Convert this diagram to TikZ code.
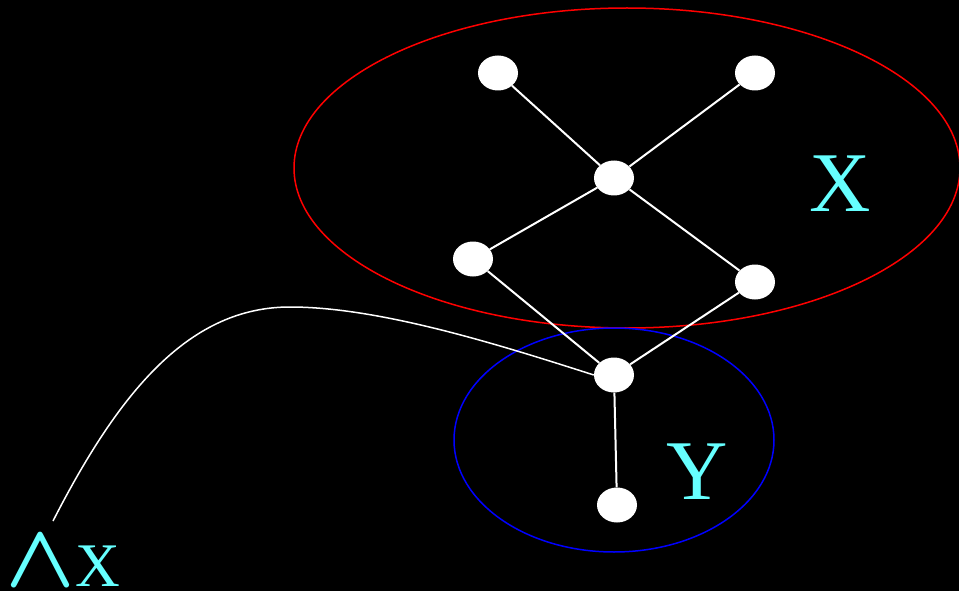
\documentclass[tikz,border=0pt]{standalone}
\usepackage{fontspec}
\setmainfont{Liberation Serif}
\usetikzlibrary{shapes.geometric}
\definecolor{labcyan}{RGB}{102,255,255}
\tikzset{
  vtx/.style={ellipse, fill=white, draw=none, minimum width=40pt, minimum height=35pt, inner sep=0pt},
  edge/.style={white, line width=2pt},
  lab/.style={text=labcyan, inner sep=0pt},
}
\begin{document}
\begin{tikzpicture}[x=1pt,y=-1pt]
\fill[black] (0,0) rectangle (959,591);
\useasboundingbox (0,0) rectangle (959,591);
\draw[red, line width=1.5pt] (627,168) ellipse [x radius=333, y radius=160];
\draw[blue, line width=1.5pt] (614,440) ellipse [x radius=160, y radius=112];
\node[vtx] (a) at (498,73) {};
\node[vtx] (b) at (755,73) {};
\node[vtx] (c) at (614,178) {};
\node[vtx] (d) at (473,259) {};
\node[vtx] (e) at (755,282) {};
\node[vtx] (f) at (614,375) {};
\node[vtx] (g) at (617,505) {};
\draw[edge] (a) -- (c);
\draw[edge] (b) -- (c);
\draw[edge] (c) -- (d);
\draw[edge] (c) -- (e);
\draw[edge] (d) -- (f);
\draw[edge] (e) -- (f);
\draw[edge] (f) -- (g);
\coordinate (s) at (53,521);
\coordinate (p) at (290,307);
\draw[white, line width=1.5pt] (s) .. controls (120,390) and (190,307) .. (p)
  .. controls (380,307) and (500,345) .. (f.west);
\node[lab, font=\fontsize{85}{85}\selectfont] (lx) at (840,184) {X};
\node[lab, font=\fontsize{85}{85}\selectfont] (ly) at (697,472) {Y};
\node[lab, font=\fontsize{62}{62}\selectfont, anchor=base west] (lw) at (5,586) {\resizebox{70pt}{50pt}{\boldmath$\wedge$}X};
\end{tikzpicture}
\end{document}
